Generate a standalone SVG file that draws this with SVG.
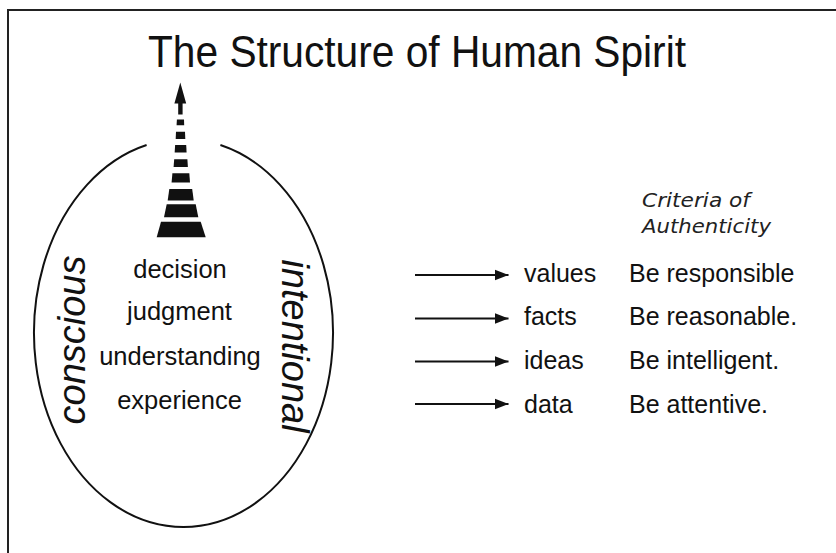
<svg xmlns="http://www.w3.org/2000/svg" width="836" height="553" viewBox="0 0 836 553">
<defs>
<style>
.t{font-family:"Liberation Sans",Arial,sans-serif;fill:#111}
.title{font-size:44px}
.lv{font-size:25.5px;text-anchor:middle}
.side{font-size:38px;font-style:italic;text-anchor:middle}
.r{font-size:25px}
.crit{font-family:"DejaVu Sans","Liberation Sans",sans-serif;font-style:italic;font-size:19px;fill:#222}
.arr{stroke:#111;stroke-width:2;fill:none}
.blk{fill:#111}
</style>
<marker id="ah" markerUnits="userSpaceOnUse" markerWidth="15" markerHeight="13" refX="14" refY="6.5" orient="auto">
<path d="M0,1 L14,6.5 L0,12 Z" fill="#111"/>
</marker>
</defs>
<rect width="836" height="553" fill="#fff"/>
<g id="frame" stroke="#222" stroke-width="2" fill="none">
<path d="M8,553 L8,10 L836,10"/>
</g>
<g id="title">
<text class="t title" x="148" y="67" textLength="538" lengthAdjust="spacingAndGlyphs">The Structure of Human Spirit</text>
</g>
<g id="spirit">
<path d="M146.6,145 A149.5,194 0 1 0 220.4,145" fill="none" stroke="#111" stroke-width="2"/>
<g id="pyramid" class="blk">
<path d="M180.3,82.5 L186.2,103.5 L182.6,103.5 L182.6,114.5 L178.2,114.5 L178.2,103.5 L174.4,103.5 Z"/>
<path d="M176.9,119.5 L184,119.5 L184.2,125.3 L176.6,125.3 Z"/>
<path d="M176,131.7 L185,131.7 L185.3,139 L175.7,139 Z"/>
<path d="M175.1,145 L186.2,145 L186.6,152.5 L174.7,152.5 Z"/>
<path d="M174.2,159.3 L187.4,159.3 L187.9,167 L173.6,167 Z"/>
<path d="M172.4,173.3 L189.3,173.3 L190,182.5 L171.6,182.5 Z"/>
<path d="M169.3,189 L192.2,189 L193.7,200.5 L167.7,200.5 Z"/>
<path d="M166.7,204.3 L195.7,204.3 L198.3,217.3 L164,217.3 Z"/>
<path d="M161,221.7 L200.7,221.7 L205.7,237.3 L156.7,237.3 Z"/>
</g>
<text class="t side" transform="translate(85,340) rotate(-90)">conscious</text>
<text class="t side" transform="translate(282,346) rotate(90)">intentional</text>
</g>
<g id="level-decision"><text class="t lv" x="180" y="277.5">decision</text></g>
<g id="level-judgment"><text class="t lv" x="179.5" y="319.5">judgment</text></g>
<g id="level-understanding"><text class="t lv" x="180" y="365">understanding</text></g>
<g id="level-experience"><text class="t lv" x="179.5" y="408.5">experience</text></g>
<g id="criteria">
<text class="crit" x="642" y="206.5" textLength="108" lengthAdjust="spacingAndGlyphs">Criteria of</text>
<text class="crit" x="642" y="232.5" textLength="129" lengthAdjust="spacingAndGlyphs">Authenticity</text>
</g>
<g id="connectors">
<line class="arr" x1="415" y1="275" x2="508.5" y2="275" marker-end="url(#ah)"/>
<line class="arr" x1="415" y1="318.5" x2="508.5" y2="318.5" marker-end="url(#ah)"/>
<line class="arr" x1="415" y1="361.5" x2="508.5" y2="361.5" marker-end="url(#ah)"/>
<line class="arr" x1="415" y1="404" x2="508.5" y2="404" marker-end="url(#ah)"/>
</g>
<g id="row-values"><text class="t r" x="524" y="281.5">values</text><text class="t r" x="629" y="281.5">Be responsible</text></g>
<g id="row-facts"><text class="t r" x="524" y="325">facts</text><text class="t r" x="629" y="325">Be reasonable.</text></g>
<g id="row-ideas"><text class="t r" x="524" y="369">ideas</text><text class="t r" x="629" y="369">Be intelligent.</text></g>
<g id="row-data"><text class="t r" x="524" y="413">data</text><text class="t r" x="629" y="413">Be attentive.</text></g>
</svg>
